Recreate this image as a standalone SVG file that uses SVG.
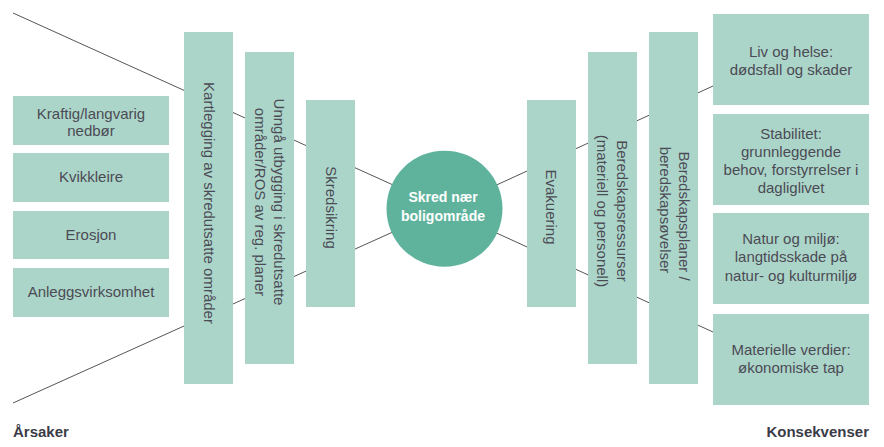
<svg xmlns="http://www.w3.org/2000/svg" width="884" height="447" viewBox="0 0 884 447">
<style>
.box{fill:#acd5c9}
.t{font-family:"Liberation Sans",Arial,sans-serif;font-size:15px;fill:#4b4b55;text-anchor:middle}
.h{font-family:"Liberation Sans",Arial,sans-serif;font-size:15px;font-weight:bold;fill:#3c3c48}
.c{font-family:"Liberation Sans",Arial,sans-serif;font-size:14px;font-weight:bold;fill:#ffffff;text-anchor:middle}
.ln{stroke:#555555;stroke-width:1;fill:none}
</style>
<rect width="884" height="447" fill="#ffffff"/>
<g id="connectors">
<line class="ln" x1="13" y1="13" x2="444" y2="208"/>
<line class="ln" x1="13" y1="403" x2="444" y2="209"/>
<line class="ln" x1="444" y1="209" x2="713" y2="86"/>
<line class="ln" x1="444" y1="209" x2="713" y2="332"/>
</g>
<g id="cause1"><rect class="box" x="13" y="96" width="156" height="49"/><text class="t" x="91" y="118.7">Kraftig/langvarig<tspan x="91" y="135.7">nedbør</tspan></text></g>
<g id="cause2"><rect class="box" x="13" y="153" width="156" height="49"/><text class="t" x="91" y="182">Kvikkleire</text></g>
<g id="cause3"><rect class="box" x="13" y="211" width="156" height="48"/><text class="t" x="91" y="239.5">Erosjon</text></g>
<g id="cause4"><rect class="box" x="13" y="268" width="156" height="49"/><text class="t" x="91" y="297">Anleggsvirksomhet</text></g>
<g id="kartlegging"><rect class="box" x="184" y="32" width="49" height="352"/><text class="t" transform="translate(204,203) rotate(90)">Kartlegging av skredutsatte områder</text></g>
<g id="unnga"><rect class="box" x="245" y="52" width="49" height="312"/><text class="t" transform="translate(273.5,202) rotate(90)">Unngå utbygging i skredutsatte<tspan x="0" y="18.5">områder/ROS av reg. planer</tspan></text></g>
<g id="skredsikring"><rect class="box" x="306" y="100" width="49" height="207"/><text class="t" transform="translate(325.5,207.5) rotate(90)">Skredsikring</text></g>
<g id="skred"><circle cx="444.5" cy="208.7" r="58" fill="#5fb39d"/><text class="c" x="443" y="201.5">Skred nær<tspan x="443" y="220.5">boligområde</tspan></text></g>
<g id="evakuering"><rect class="box" x="527" y="100" width="49" height="207"/><text class="t" transform="translate(545.5,207) rotate(90)">Evakuering</text></g>
<g id="ressurser"><rect class="box" x="588" y="52" width="49" height="312"/><text class="t" transform="translate(617.3,211) rotate(90)">Beredskapsressurser<tspan x="0" y="20">(materiell og personell)</tspan></text></g>
<g id="planer"><rect class="box" x="649" y="32" width="49" height="352"/><text class="t" transform="translate(679,213) rotate(90)"><tspan x="3" y="0">Beredskapsplaner /</tspan><tspan x="-3" y="19">beredskapsøvelser</tspan></text></g>
<g id="cons1"><rect class="box" x="713" y="14" width="156" height="91"/><text class="t" x="791" y="57.3">Liv og helse:<tspan x="791" y="75.3">dødsfall og skader</tspan></text></g>
<g id="cons2"><rect class="box" x="713" y="114" width="156" height="91"/><text class="t" x="791" y="138.7">Stabilitet:<tspan x="791" y="156.9">grunnleggende</tspan><tspan x="791" y="175.1">behov, forstyrrelser i</tspan><tspan x="791" y="193.3">dagliglivet</tspan></text></g>
<g id="cons3"><rect class="box" x="713" y="213" width="156" height="91"/><text class="t" x="791" y="243.7">Natur og miljø:<tspan x="791" y="262.3">langtidsskade på</tspan><tspan x="791" y="281">natur- og kulturmiljø</tspan></text></g>
<g id="cons4"><rect class="box" x="713" y="314" width="156" height="91"/><text class="t" x="791" y="355">Materielle verdier:<tspan x="791" y="373">økonomiske tap</tspan></text></g>
<g id="labels">
<text class="h" x="13" y="437">Årsaker</text>
<text class="h" x="869" y="437" text-anchor="end">Konsekvenser</text>
</g>
</svg>
